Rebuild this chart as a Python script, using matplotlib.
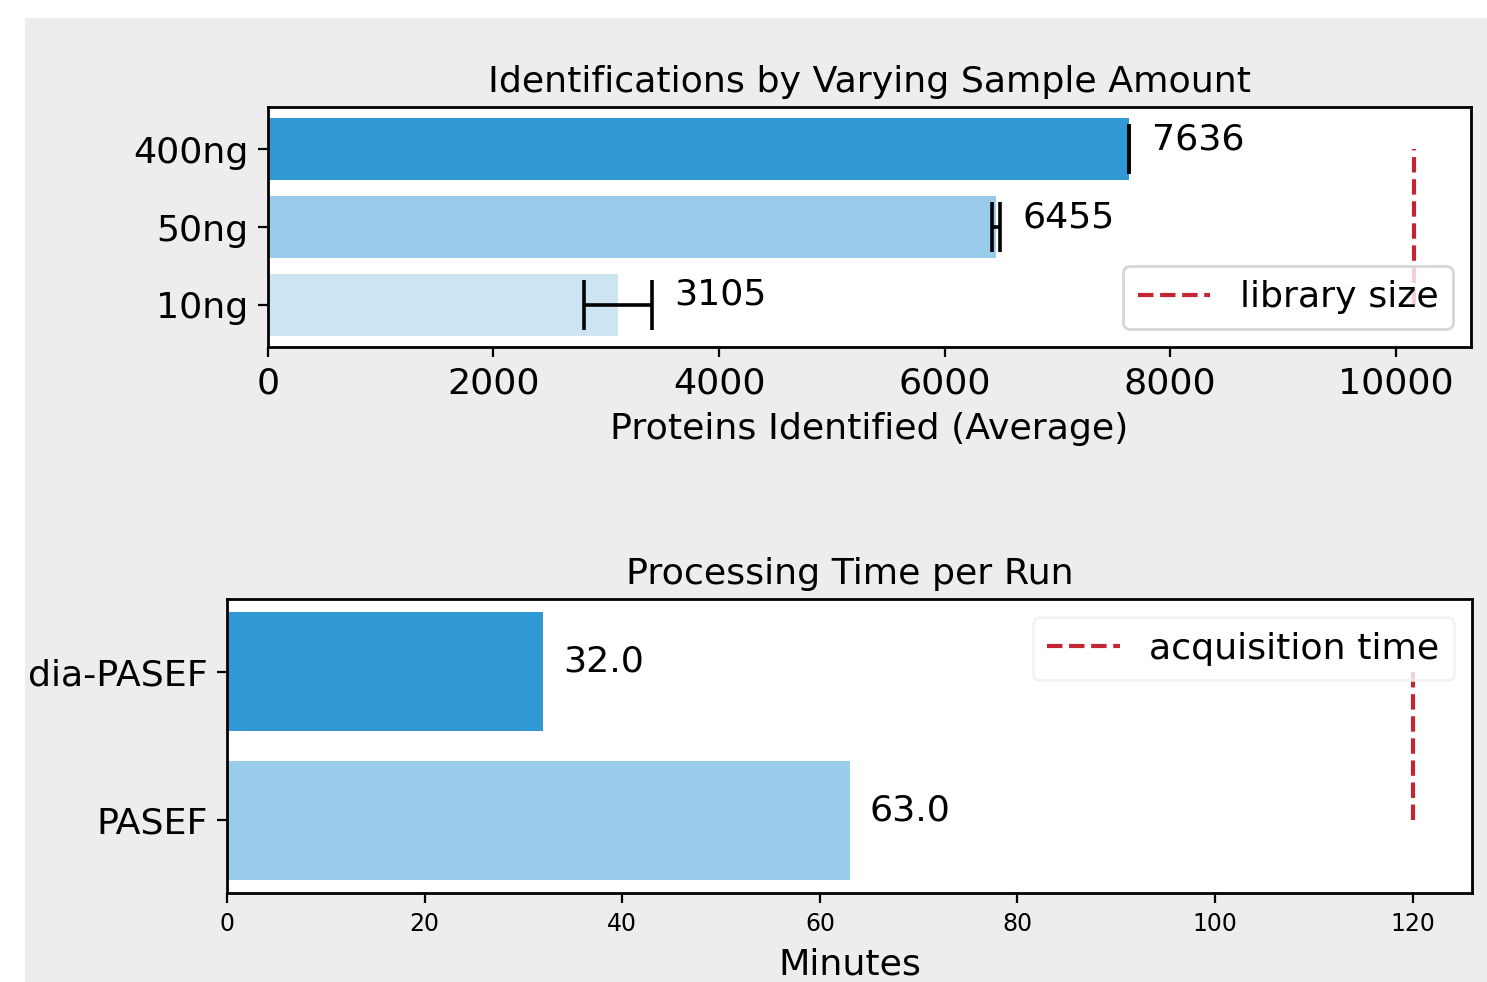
import numpy as np
import matplotlib.pyplot as plt
from matplotlib.patches import Rectangle

# data
samples = ['400ng', '50ng', '10ng']
proteins = [7636, 6455, 3105]
proteins_err = [4, 35, 298]
library_size = 10160

methods = ['dia-PASEF', 'PASEF']
minutes = [32.0, 63.0]
acquisition_time = 120

c_dark = '#3198d6'
c_mid = '#99cbea'
c_light = '#cde4f3'
c_red = '#c42532'

plt.rcParams['font.family'] = 'DejaVu Sans'
plt.rcParams['font.size'] = 13.1

fig = plt.figure(figsize=(7.435, 4.91), dpi=200, facecolor='white')
bg = Rectangle((25 / 1487, 0), 1 - 25 / 1487, 1 - 18 / 982,
               transform=fig.transFigure, facecolor='#ededed',
               edgecolor='none', zorder=-10)
fig.add_artist(bg)

# top panel
ax1 = fig.add_axes([0.1802, 0.6466, 0.9892 - 0.1802, 0.8910 - 0.6466])
ypos = np.arange(len(samples))[::-1]
ax1.barh(ypos, proteins, color=[c_dark, c_mid, c_light])
ax1.errorbar(proteins, ypos, xerr=proteins_err, fmt='none', ecolor='black',
             elinewidth=1.3, capsize=9, capthick=1.3)
for y, v, e in zip(ypos, proteins, proteins_err):
    ax1.text(v + e + 200, y, str(v))
ax1.plot([library_size, library_size], [ypos.min(), ypos.max()], '--',
         color=c_red, lw=1.5, label='library size')
ax1.set_yticks(ypos)
ax1.set_yticklabels(samples)
ax1.set_xlabel('Proteins Identified (Average)')
ax1.set_title('Identifications by Varying Sample Amount', fontsize=13.1, pad=5.5)
ax1.legend(loc='lower right')

# bottom panel
ax2 = fig.add_axes([0.1527, 0.0906, 0.9899 - 0.1527, 0.3900 - 0.0906])
ypos2 = np.arange(len(methods))[::-1]
ax2.barh(ypos2, minutes, color=[c_dark, c_mid])
for y, v in zip(ypos2, minutes):
    ax2.text(v + 2, y, '%.1f' % v)
ax2.plot([acquisition_time, acquisition_time], [ypos2.min(), ypos2.max()], '--',
         color=c_red, lw=1.5, label='acquisition time')
ax2.set_yticks(ypos2)
ax2.set_yticklabels(methods)
ax2.tick_params(axis='x', labelsize=8.5)
ax2.set_xlabel('Minutes')
ax2.set_title('Processing Time per Run', fontsize=13.1, pad=5.5)
leg = ax2.legend(loc='upper right')
leg.get_frame().set_edgecolor('#f0f0f0')

for ax in (ax1, ax2):
    for s in ax.spines.values():
        s.set_linewidth(1.0)

fig.savefig('out.png', dpi=200, facecolor=fig.get_facecolor())
